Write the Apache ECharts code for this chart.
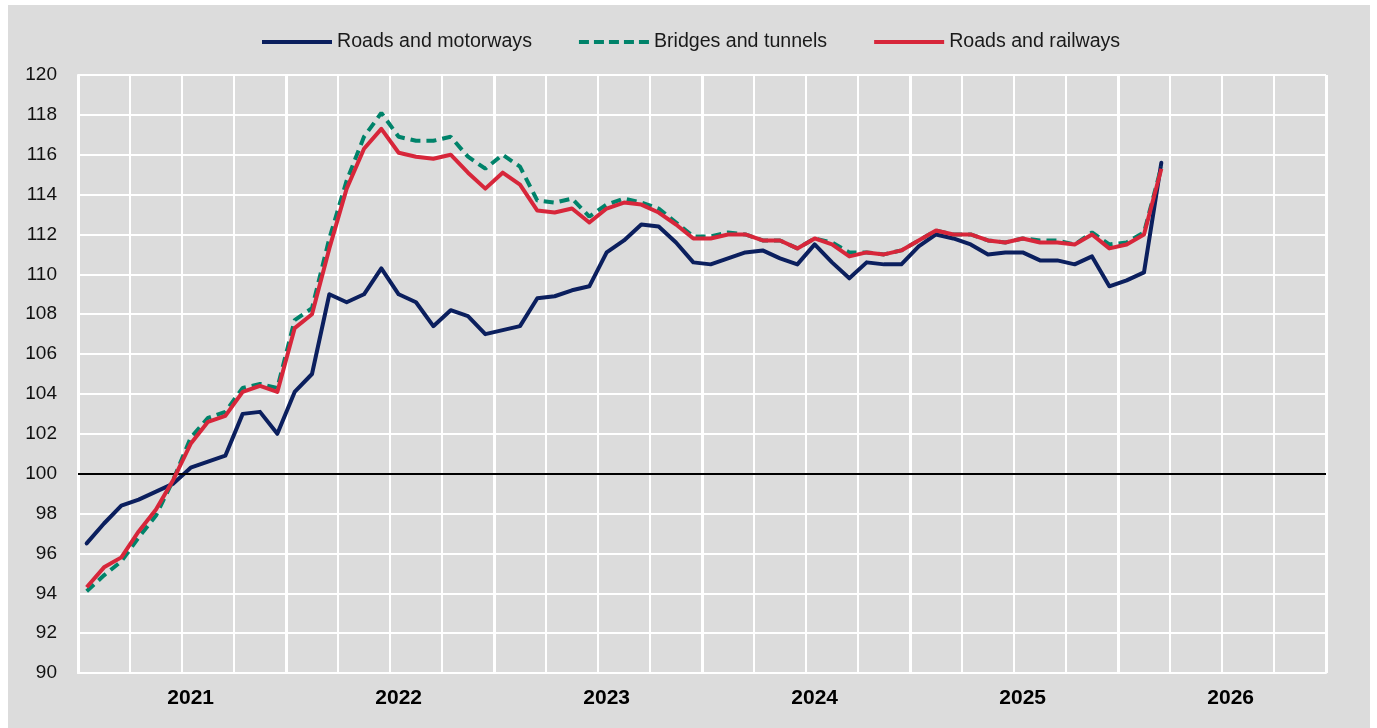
<!DOCTYPE html>
<html>
<head>
<meta charset="utf-8">
<script src="https://cdn.jsdelivr.net/npm/echarts@6/dist/echarts.min.js"></script>
<style>
  html, body { margin: 0; padding: 0; background: #ffffff; width: 1377px; height: 728px; overflow: hidden; }
  #chart { position: absolute; left: 8px; top: 5px; width: 1362px; height: 723px; background: #dcdcdc; }
</style>
</head>
<body>
<div id="chart"></div>
<script>
// Monthly categories, Jan 2021 .. Dec 2026
const categories = [
  '2021-01','2021-02','2021-03','2021-04','2021-05','2021-06','2021-07','2021-08','2021-09','2021-10','2021-11','2021-12',
  '2022-01','2022-02','2022-03','2022-04','2022-05','2022-06','2022-07','2022-08','2022-09','2022-10','2022-11','2022-12',
  '2023-01','2023-02','2023-03','2023-04','2023-05','2023-06','2023-07','2023-08','2023-09','2023-10','2023-11','2023-12',
  '2024-01','2024-02','2024-03','2024-04','2024-05','2024-06','2024-07','2024-08','2024-09','2024-10','2024-11','2024-12',
  '2025-01','2025-02','2025-03','2025-04','2025-05','2025-06','2025-07','2025-08','2025-09','2025-10','2025-11','2025-12',
  '2026-01','2026-02','2026-03','2026-04','2026-05','2026-06','2026-07','2026-08','2026-09','2026-10','2026-11','2026-12'
];

const seriesNames = ['Roads and motorways', 'Bridges and tunnels', 'Roads and railways'];

const roadsMotorways = [
  96.5, 97.5, 98.4, 98.7, 99.1, 99.5, 100.3, 100.6, 100.9, 103.0, 103.1, 102.0,
  104.1, 105.0, 109.0, 108.6, 109.0, 110.3, 109.0, 108.6, 107.4, 108.2, 107.9, 107.0,
  107.2, 107.4, 108.8, 108.9, 109.2, 109.4, 111.1, 111.7, 112.5, 112.4, 111.6, 110.6,
  110.5, 110.8, 111.1, 111.2, 110.8, 110.5, 111.5, 110.6, 109.8, 110.6, 110.5, 110.5,
  111.4, 112.0, 111.8, 111.5, 111.0, 111.1, 111.1, 110.7, 110.7, 110.5, 110.9, 109.4,
  109.7, 110.1, 115.6
];

const bridgesTunnels = [
  94.1, 94.9, 95.6, 96.8, 97.9, 99.7, 101.8, 102.8, 103.1, 104.3, 104.5, 104.3,
  107.7, 108.3, 111.8, 114.7, 116.9, 118.1, 116.9, 116.7, 116.7, 116.9, 115.9, 115.3,
  116.0, 115.4, 113.7, 113.6, 113.8, 112.9, 113.5, 113.8, 113.6, 113.3, 112.6, 111.9,
  111.9, 112.1, 112.0, 111.7, 111.7, 111.3, 111.8, 111.6, 111.1, 111.1, 111.0, 111.2,
  111.7, 112.2, 112.0, 112.0, 111.7, 111.6, 111.8, 111.7, 111.7, 111.5, 112.1, 111.5,
  111.6, 112.1, 115.4
];

const roadsRailways = [
  94.3, 95.3, 95.8, 97.1, 98.2, 99.7, 101.5, 102.6, 102.9, 104.1, 104.4, 104.1,
  107.3, 108.0, 111.3, 114.3, 116.3, 117.3, 116.1, 115.9, 115.8, 116.0, 115.1, 114.3,
  115.1, 114.5, 113.2, 113.1, 113.3, 112.6, 113.3, 113.6, 113.5, 113.1, 112.5, 111.8,
  111.8, 112.0, 112.0, 111.7, 111.7, 111.3, 111.8, 111.5, 110.9, 111.1, 111.0, 111.2,
  111.7, 112.2, 112.0, 112.0, 111.7, 111.6, 111.8, 111.6, 111.6, 111.5, 112.0, 111.3,
  111.5, 112.0, 115.3
];

const yTicks = { min: 90, max: 120, interval: 2 };
const referenceLevel = 100;

const FONT = "'Liberation Sans', Arial, sans-serif";
const colors = ['#0b1f5e', '#00836a', '#d7263a'];

const solidIcon = 'path://M0,0h70v4h-70z';
const dashedIcon = 'path://M0,0h10v4h-10z M15,0h10v4h-10z M30,0h10v4h-10z M45,0h10v4h-10z M60,0h10v4h-10z';

const chart = echarts.init(document.getElementById('chart'), null, { renderer: 'canvas' });

chart.setOption({
  backgroundColor: 'transparent',
  animation: false,
  textStyle: { fontFamily: FONT },
  legend: {
    left: 254,
    top: 27,
    padding: 0,
    itemGap: 47,
    itemWidth: 70,
    itemHeight: 4,
    textStyle: { fontFamily: FONT, fontSize: 19.6, color: '#1a1a1a' },
    data: [
      { name: seriesNames[0], icon: solidIcon },
      { name: seriesNames[1], icon: dashedIcon },
      { name: seriesNames[2], icon: solidIcon }
    ]
  },
  grid: { left: 70, top: 70, width: 1248, height: 598, containLabel: false },
  xAxis: [
    {
      type: 'category',
      data: categories,
      boundaryGap: true,
      axisLine: { show: true, lineStyle: { color: '#ffffff', width: 2 } },
      axisTick: { show: false },
      axisLabel: {
        interval: (i) => i % 12 === 6,
        formatter: (v) => v.slice(0, 4),
        fontFamily: FONT, fontSize: 21, fontWeight: 'bold', color: '#000000', margin: 15
      },
      splitLine: {
        show: true,
        interval: (i) => i % 3 === 0,
        lineStyle: { color: '#ffffff', width: 2 }
      }
    },
    {
      type: 'category',
      data: categories,
      boundaryGap: true,
      position: 'bottom',
      axisLine: { show: false },
      axisTick: { show: false },
      axisLabel: { show: false },
      splitLine: {
        show: true,
        interval: (i) => i % 12 === 0,
        lineStyle: { color: '#ffffff', width: 3 }
      }
    }
  ],
  yAxis: {
    type: 'value',
    min: yTicks.min,
    max: yTicks.max,
    interval: yTicks.interval,
    axisLine: { show: true, lineStyle: { color: '#ffffff', width: 2 } },
    axisTick: { show: false },
    axisLabel: { fontFamily: FONT, fontSize: 19, color: '#111111', margin: 21 },
    splitLine: { show: true, lineStyle: { color: '#ffffff', width: 2 } }
  },
  series: [
    {
      name: seriesNames[0], type: 'line', data: roadsMotorways, xAxisIndex: 0,
      symbol: 'none', smooth: false, color: colors[0],
      lineStyle: { width: 4, color: colors[0], cap: 'round', join: 'round' },
      markLine: {
        silent: true, symbol: 'none', label: { show: false },
        lineStyle: { color: '#000000', width: 2, type: 'solid' },
        data: [{ yAxis: referenceLevel }]
      },
      z: 3
    },
    {
      name: seriesNames[1], type: 'line', data: bridgesTunnels, xAxisIndex: 0,
      symbol: 'none', smooth: false, color: colors[1],
      lineStyle: { width: 4, color: colors[1], type: [10, 6] },
      z: 4
    },
    {
      name: seriesNames[2], type: 'line', data: roadsRailways, xAxisIndex: 0,
      symbol: 'none', smooth: false, color: colors[2],
      lineStyle: { width: 4, color: colors[2], join: 'round' },
      z: 5
    }
  ]
});
</script>
</body>
</html>
